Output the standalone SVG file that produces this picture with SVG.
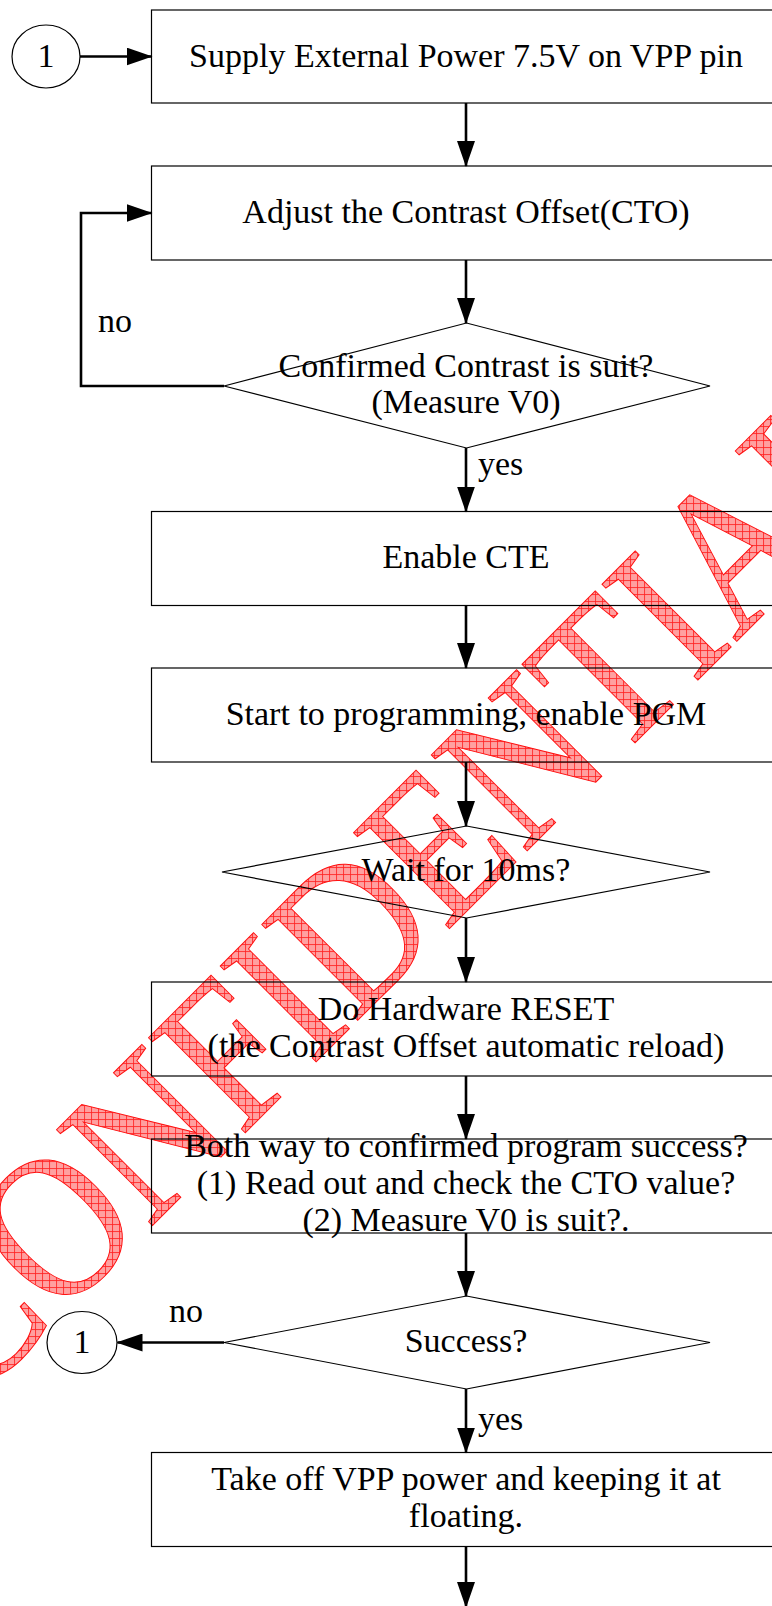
<svg xmlns="http://www.w3.org/2000/svg" width="772" height="1606" viewBox="0 0 772 1606">
<defs>
<style>
.box{fill:none;stroke:#000;stroke-width:1.2}
.dia{fill:none;stroke:#000;stroke-width:1.2}
.t{font-family:"Liberation Serif","Times New Roman",serif;font-size:34px;fill:#000;text-anchor:middle}
.lbl{font-family:"Liberation Serif","Times New Roman",serif;font-size:34px;fill:#000}
.c{fill:none;stroke:#000;stroke-width:2.6}
.wm{font-family:"Liberation Serif","Times New Roman",serif;font-size:180px;fill:url(#hatch);stroke:#ff1010;stroke-width:0.9}
</style>
<marker id="ah" markerUnits="userSpaceOnUse" markerWidth="26" markerHeight="18" viewBox="0 0 26 18" refX="25" refY="9" orient="auto">
<path d="M0,0 L26,9 L0,18 Z" fill="#000"/>
</marker>
<pattern id="hatch" patternUnits="userSpaceOnUse" width="7" height="7" patternTransform="scale(1,0.8696) rotate(45)">
<rect width="7" height="7" fill="#ffa0a0"/>
<path d="M0,0.5H7M0.5,0V7" stroke="#ff2020" stroke-width="0.8"/>
</pattern>
</defs>
<rect width="772" height="1606" fill="#fff"/>

<text class="wm" transform="translate(-28,1406) rotate(-45) scale(1,1.15)">CONFIDENTIAL</text>

<g id="n_c1"><ellipse cx="46" cy="56.5" rx="34" ry="31.5" fill="none" stroke="#000" stroke-width="1.2"/><text class="t" x="46" y="66.5">1</text></g>
<g id="n_supply"><rect class="box" x="151.5" y="10" width="630" height="93"/><text class="t" x="466" y="67">Supply External Power 7.5V on VPP pin</text></g>
<g id="n_adjust"><rect class="box" x="151.5" y="166" width="630" height="94"/><text class="t" x="466" y="223">Adjust the Contrast Offset(CTO)</text></g>
<g id="n_confirm"><polygon class="dia" points="224,386 466.5,323 710,386 466.5,448"/><text class="t" x="466" y="377">Confirmed Contrast is suit?</text><text class="t" x="466" y="413">(Measure V0)</text></g>
<g id="n_cte"><rect class="box" x="151.5" y="511.5" width="630" height="94"/><text class="t" x="466" y="567.5">Enable CTE</text></g>
<g id="n_pgm"><rect class="box" x="151.5" y="668" width="630" height="94"/><text class="t" x="466" y="724.5">Start to programming, enable PGM</text></g>
<g id="n_wait"><polygon class="dia" points="222,872 466.5,826 710,872 466.5,918"/><text class="t" x="466" y="881">Wait for 10ms?</text></g>
<g id="n_reset"><rect class="box" x="151.5" y="982" width="630" height="94"/><text class="t" x="466" y="1020">Do Hardware RESET</text><text class="t" x="466" y="1056.7">(the Contrast Offset automatic reload)</text></g>
<g id="n_check"><rect class="box" x="151.5" y="1139" width="630" height="94"/><text class="t" x="466" y="1157">Both way to confirmed program success?</text><text class="t" x="466" y="1194">(1) Read out and check the CTO value?</text><text class="t" x="466" y="1231">(2) Measure V0 is suit?.</text></g>
<g id="n_success"><polygon class="dia" points="224,1342.5 466.5,1296 710,1342.5 466.5,1389"/><text class="t" x="466" y="1352">Success?</text></g>
<g id="n_c2"><ellipse cx="82" cy="1342.5" rx="35" ry="31" fill="none" stroke="#000" stroke-width="1.2"/><text class="t" x="82" y="1352.5">1</text></g>
<g id="n_off"><rect class="box" x="151.5" y="1452.5" width="630" height="94"/><text class="t" x="466" y="1490">Take off VPP power and keeping it at</text><text class="t" x="466" y="1526.7">floating.</text></g>

<g id="connectors">
<path class="c" d="M80,56.5H151.5" marker-end="url(#ah)"/>
<path class="c" d="M466,103V166" marker-end="url(#ah)"/>
<path class="c" d="M466,260V323" marker-end="url(#ah)"/>
<path class="c" d="M224,386H81V213H151.5" marker-end="url(#ah)"/>
<path class="c" d="M466,448V511.5" marker-end="url(#ah)"/>
<path class="c" d="M466,605.5V668" marker-end="url(#ah)"/>
<path class="c" d="M466,762V826" marker-end="url(#ah)"/>
<path class="c" d="M466,918V982" marker-end="url(#ah)"/>
<path class="c" d="M466,1076V1139" marker-end="url(#ah)"/>
<path class="c" d="M466,1233V1296" marker-end="url(#ah)"/>
<path class="c" d="M224,1342.5H117.5" marker-end="url(#ah)"/>
<path class="c" d="M466,1389V1452.5" marker-end="url(#ah)"/>
<path class="c" d="M466,1546.5V1607" marker-end="url(#ah)"/>
<text class="lbl" x="98" y="332">no</text>
<text class="lbl" x="478" y="475">yes</text>
<text class="lbl" x="169" y="1322">no</text>
<text class="lbl" x="478" y="1430">yes</text>
</g>
</svg>
